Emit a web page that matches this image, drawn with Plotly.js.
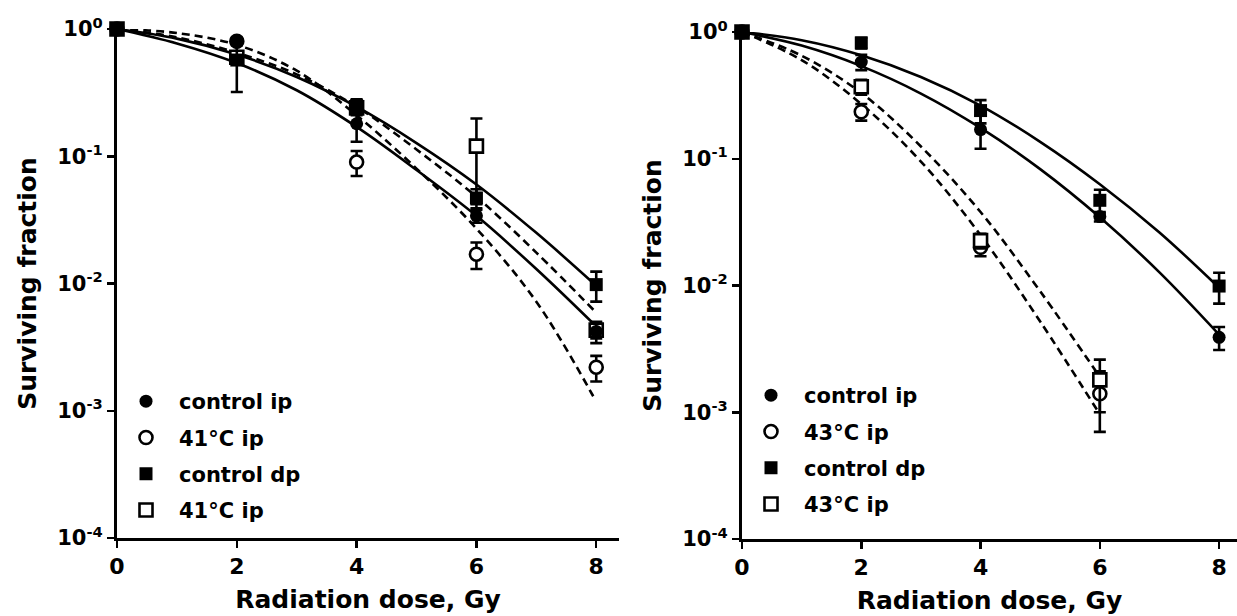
<!DOCTYPE html>
<html><head><meta charset="utf-8">
<script src="https://cdn.plot.ly/plotly-3.0.1.min.js"></script>
<style>html,body{margin:0;padding:0;background:#fff}#chart{width:1237px;height:616px}</style>
</head><body><div id="chart"></div>
<script>
// ---------- data ----------
const doses = [0, 2, 4, 6, 8];
const dosesHot43 = [0, 2, 4, 6];
const curveDose = [0, 1, 2, 3, 4, 5, 6, 7, 8];
const curveDoseShortL = [0, 1, 2, 3, 4, 5, 6, 7, 7.95];
const curveDoseHot43Sq = [0, 1, 2, 3, 4, 5, 6];
const curveDoseHot43Ci = [0, 1, 2, 3, 4, 5, 5.95];

const yTickVals = [1e-4, 1e-3, 1e-2, 1e-1, 1];
const yTickText = ['10<sup>-4</sup>', '10<sup>-3</sup>', '10<sup>-2</sup>', '10<sup>-1</sup>', '10<sup>0</sup>'];
const xTickVals = [0, 2, 4, 6, 8];

// left panel (41 °C)
const L_names = ['control ip', '41°C ip', 'control dp', '41°C ip'];
const L_ctrlIp = [1, 0.80, 0.18, 0.034, 0.0042];
const L_ctrlIpErr = [0, 0.05, 0.05, 0.004, 0.0008];
const L_hotCircle = [1, 0.80, 0.09, 0.017, 0.0022];
const L_hotCircleErr = [0, 0.05, 0.02, 0.004, 0.0005];
const L_ctrlDp = [1, 0.57, 0.25, 0.047, 0.0098];
const L_ctrlDpErr = [0, 0.25, 0.03, 0.008, 0.0026];
const L_hotSquare = [1, 0.60, 0.24, 0.12, 0.0043];
const L_hotSquareErr = [0, 0.05, 0.03, 0.078, 0.0006];

const L_fitCtrlDp = [1, 0.84, 0.63, 0.42, 0.245, 0.127, 0.060, 0.025, 0.0096];
const L_fitCtrlIp = [1, 0.77, 0.54, 0.33, 0.17, 0.078, 0.034, 0.0130, 0.0046];
const L_fitHotSq = [1, 0.86, 0.65, 0.44, 0.245, 0.113, 0.048, 0.0175, 0.0059];
const L_fitHotCi = [1, 0.93, 0.75, 0.47, 0.21, 0.080, 0.027, 0.0072, 0.0013];

// right panel (43 °C)
const R_names = ['control ip', '43°C ip', 'control dp', '43°C ip'];
const R_ctrlIp = [1, 0.58, 0.17, 0.035, 0.0039];
const R_ctrlIpErr = [0, 0.08, 0.05, 0.003, 0.0008];
const R_hotCircle = [1, 0.235, 0.020, 0.0014];
const R_hotCircleErr = [0, 0.035, 0.003, 0.0007];
const R_ctrlDp = [1, 0.82, 0.24, 0.047, 0.0099];
const R_ctrlDpErr = [0, 0.08, 0.05, 0.01, 0.0027];
const R_hotSquare = [1, 0.37, 0.0226, 0.0018];
const R_hotSquareErr = [0, 0.05, 0.003, 0.0008];

const R_fitCtrlDp = [1, 0.862, 0.656, 0.442, 0.263, 0.136, 0.063, 0.0262, 0.0096];
const R_fitCtrlIp = [1, 0.781, 0.538, 0.327, 0.175, 0.0828, 0.0345, 0.0127, 0.0041];
const R_fitHotSq = [1, 0.65, 0.33, 0.125, 0.038, 0.0090, 0.0019];
const R_fitHotCi = [1, 0.60, 0.27, 0.095, 0.025, 0.0052, 0.00105];

// ---------- helpers ----------
const FONT = 'DejaVu Sans, Verdana, sans-serif';
function curve(x, y, dash, xa, ya) {
  return {x, y, xaxis: xa, yaxis: ya, mode: 'lines', showlegend: false, hoverinfo: 'skip',
    line: {color: 'black', width: 2.6, shape: 'spline', dash: dash ? '8px,5px' : 'solid'},
    cliponaxis: false};
}
function pts(x, y, err, symbol, filled, name, rank, xa, ya, leg) {
  return {x, y, xaxis: xa, yaxis: ya, mode: 'markers', name, legend: leg,
    legendgroup: leg + rank, legendrank: rank, cliponaxis: false,
    marker: {symbol, size: 13, color: filled ? 'black' : 'white',
      line: {color: 'black', width: filled ? 0 : 2.6}},
    error_y: {type: 'data', array: err, visible: true, color: 'black', thickness: 2.6, width: 6}};
}

const traces = [
  curve(curveDose, L_fitCtrlDp, false, 'x', 'y'),
  curve(curveDose, L_fitCtrlIp, false, 'x', 'y'),
  curve(curveDose, L_fitHotSq, true, 'x', 'y'),
  curve(curveDoseShortL, L_fitHotCi, true, 'x', 'y'),
  pts(doses, L_hotCircle, L_hotCircleErr, 'circle', false, L_names[1], 2, 'x', 'y', 'legend'),
  pts(doses, L_hotSquare, L_hotSquareErr, 'square', false, L_names[3], 4, 'x', 'y', 'legend'),
  pts(doses, L_ctrlIp, L_ctrlIpErr, 'circle', true, L_names[0], 1, 'x', 'y', 'legend'),
  pts(doses, L_ctrlDp, L_ctrlDpErr, 'square', true, L_names[2], 3, 'x', 'y', 'legend'),

  curve(curveDose, R_fitCtrlDp, false, 'x2', 'y2'),
  curve(curveDose, R_fitCtrlIp, false, 'x2', 'y2'),
  curve(curveDoseHot43Sq, R_fitHotSq, true, 'x2', 'y2'),
  curve(curveDoseHot43Ci, R_fitHotCi, true, 'x2', 'y2'),
  pts(dosesHot43, R_hotCircle, R_hotCircleErr, 'circle', false, R_names[1], 2, 'x2', 'y2', 'legend2'),
  pts(dosesHot43, R_hotSquare, R_hotSquareErr, 'square', false, R_names[3], 4, 'x2', 'y2', 'legend2'),
  pts(doses, R_ctrlIp, R_ctrlIpErr, 'circle', true, R_names[0], 1, 'x2', 'y2', 'legend2'),
  pts(doses, R_ctrlDp, R_ctrlDpErr, 'square', true, R_names[2], 3, 'x2', 'y2', 'legend2'),
];

const W = 1237, H = 616;
function xAxis(d0, d1, r1, anchor) {
  return {domain: [d0 / W, d1 / W], range: [0, r1], anchor, showline: true, linewidth: 3, linecolor: 'black',
    ticks: 'outside', ticklen: 7, tickwidth: 2.5, tickcolor: 'black', tickvals: xTickVals,
    showgrid: false, zeroline: false, automargin: false, fixedrange: true,
    tickfont: {family: FONT, size: 22, weight: 'bold', color: 'black'},
    title: {text: 'Radiation dose, Gy', font: {family: FONT, size: 25, weight: 'bold', color: 'black'}, standoff: 13}};
}
function yAxis(top, bottom, anchor) {
  return {type: 'log', domain: [1 - bottom / H, 1 - top / H], range: [-4, 0], anchor, showline: true, linewidth: 3,
    linecolor: 'black', ticks: 'outside', ticklen: 7, tickwidth: 2.5, tickcolor: 'black',
    tickvals: yTickVals, ticktext: yTickText, showgrid: false, zeroline: false, automargin: false, fixedrange: true,
    tickfont: {family: FONT, size: 21, weight: 'bold', color: 'black'},
    title: {text: 'Surviving fraction', font: {family: FONT, size: 25, weight: 'bold', color: 'black'}, standoff: 14}};
}
const legendBase = {xanchor: 'left', yanchor: 'top', bgcolor: 'rgba(0,0,0,0)', tracegroupgap: 6,
  font: {family: FONT, size: 21, weight: 'bold', color: 'black'}, itemwidth: 56, traceorder: 'grouped'};

const layout = {
  width: W, height: H, margin: {l: 0, r: 0, t: 0, b: 0}, paper_bgcolor: 'white', plot_bgcolor: 'white',
  showlegend: true,
  xaxis: xAxis(117, 619, 8.38, 'y'),
  yaxis: yAxis(29, 538, 'x'),
  xaxis2: xAxis(742, 1237, 8.3, 'y2'),
  yaxis2: yAxis(32, 539, 'x2'),
  legend: Object.assign({}, legendBase, {x: 113 / W, y: 1 - 381 / H}),
  legend2: Object.assign({}, legendBase, {x: 738 / W, y: 1 - 375 / H}),
};
Plotly.newPlot('chart', traces, layout, {staticPlot: true, displayModeBar: false});
</script></body></html>
